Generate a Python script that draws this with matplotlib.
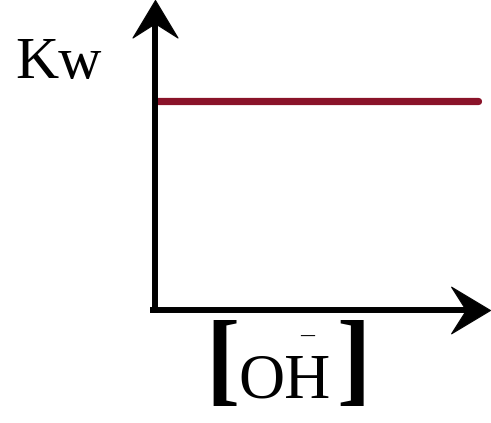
import matplotlib.pyplot as plt
from matplotlib.path import Path

# Kw stays constant as [OH-] increases
oh_conc = [0.0, 0.964]
kw_vals = [0.674, 0.674]

W, H = 491, 423

fig = plt.figure(figsize=(W / 100, H / 100), dpi=100)
ax = fig.add_axes([155 / W, (H - 310) / H, (490 - 155) / W, 310 / H])
ax.set_xlim(0, 1)
ax.set_ylim(0, 1)
ax.axis("off")

ax.plot(oh_conc, kw_vals, color="#8a1329", lw=5.2, solid_capstyle="round")

# axis lines with stealth-style heads (tip sits at marker centre)
head_right = Path([(0, 0), (-1, 0.6), (-0.62, 0), (-1, -0.6), (0, 0)],
                  [Path.MOVETO, Path.LINETO, Path.LINETO, Path.LINETO,
                   Path.CLOSEPOLY])
head_up = Path([(0, 0), (-0.6, -1), (0, -0.62), (0.6, -1), (0, 0)],
               [Path.MOVETO, Path.LINETO, Path.LINETO, Path.LINETO,
                Path.CLOSEPOLY])

ax.plot([0, 0], [0, 0.93], color="black", lw=4.3, transform=ax.transAxes,
        clip_on=False, solid_capstyle="projecting")
ax.plot([-0.015, 0.93], [0, 0], color="black", lw=4.3, transform=ax.transAxes,
        clip_on=False, solid_capstyle="butt")
ax.plot([0], [1.0], marker=head_up, ms=54, color="black", mew=0.8,
        transform=ax.transAxes, clip_on=False)
ax.plot([1.0], [0], marker=head_right, ms=56, color="black", mew=0.8,
        transform=ax.transAxes, clip_on=False)

serif = "Liberation Serif"
fig.text(15 / W, (H - 78) / H, "Kw", fontsize=43, family=serif,
         ha="left", va="baseline")
fig.text(205 / W, (H - 392) / H, "[", fontsize=74, family=serif,
         fontweight="bold", ha="left", va="baseline")
fig.text(238 / W, (H - 397) / H, "OH", fontsize=46, family=serif,
         ha="left", va="baseline")
fig.text(307 / W, (H - 336) / H, "\u2013", fontsize=20, family=serif,
         ha="center", va="center")
fig.text(336 / W, (H - 392) / H, "]", fontsize=74, family=serif,
         fontweight="bold", ha="left", va="baseline")

fig.savefig("out.png", dpi=100)
